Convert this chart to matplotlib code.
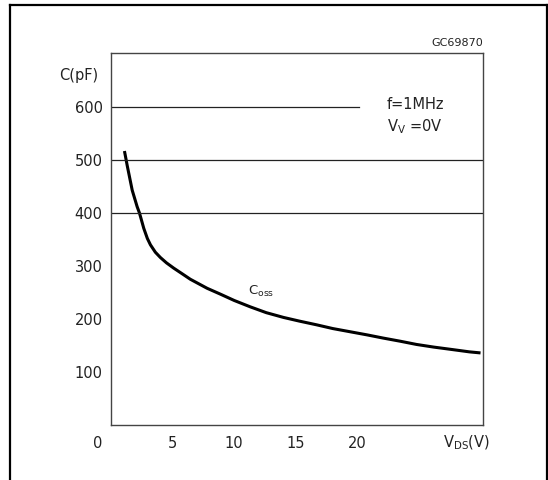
import numpy as np
import matplotlib as mpl
mpl.use("Agg")
import matplotlib.pyplot as plt
from matplotlib.lines import Line2D

# Coss curve
vds = [1.09, 1.23, 1.31, 1.72, 2.12, 2.31, 2.66, 2.95, 3.2, 3.6, 4.01,
       4.5, 5.09, 5.8, 6.44, 7.8, 8.87, 10.0, 11.3, 12.6, 14.0, 15.3,
       16.7, 18.0, 19.4, 20.8, 22.1, 23.5, 24.8, 26.2, 27.5, 29.1, 30.0]
coss = [517, 500, 490, 443, 412, 400, 371, 352, 340, 326, 316,
        306, 296, 285, 275, 258, 247, 235, 223, 212, 203, 196,
        189, 182, 176, 170, 164, 158, 152, 147, 143, 138, 136]

yticks = [100, 200, 300, 400, 500, 600]
xticks = [5, 10, 15, 20]

mpl.rcParams['font.family'] = 'DejaVu Sans'
txt = '#222222'
fs = 10.5

fig = plt.figure(figsize=(5.48, 4.80), dpi=100)
ax = fig.add_axes([0.2026, 0.1146, 0.6788, 0.775])

ax.plot(vds, coss, color='black', lw=2.2, solid_capstyle='butt',
        solid_joinstyle='round')

# horizontal reference lines
ax.plot([0, 20.1], [600, 600], color='#222222', lw=0.9)
ax.axhline(500, color='#222222', lw=0.9)
ax.axhline(400, color='#222222', lw=0.9)

ax.set_xlim(0, 30.2)
ax.set_ylim(0, 702)
ax.set_xticks(xticks)
ax.set_yticks(yticks)
ax.tick_params(axis='both', length=0, labelsize=fs, colors=txt)
ax.tick_params(axis='y', pad=6)
ax.tick_params(axis='x', pad=8)
for s in ax.spines.values():
    s.set_color('#444444')
    s.set_linewidth(1.0)

ax.text(-1.1, -34, '0', ha='center', va='center', fontsize=fs, color=txt,
        clip_on=False)
ax.text(28.9, -34, r'V$_{\mathrm{DS}}$(V)', ha='center', va='center',
        fontsize=fs, color=txt, clip_on=False)
ax.text(-2.6, 660, 'C(pF)', ha='center', va='center', fontsize=fs,
        color=txt, clip_on=False)
ax.text(30.2, 712, 'GC69870', ha='right', va='bottom', fontsize=8,
        color=txt, clip_on=False)
ax.text(22.4, 604, 'f=1MHz', ha='left', va='center', fontsize=fs, color=txt)
ax.text(22.4, 563, r'V$_{\mathrm{V}}$ =0V', ha='left', va='center',
        fontsize=fs, color=txt)
ax.text(11.1, 238, r'C$_{\mathrm{oss}}$', ha='left', va='bottom',
        fontsize=9.5, color=txt)

# outer frame (left, top, right)
fw = 1.6
fig.add_artist(Line2D([10 / 548, 10 / 548], [0, 1 - 4.5 / 480],
                      color='black', lw=fw, transform=fig.transFigure))
fig.add_artist(Line2D([10 / 548, 547 / 548], [1 - 4.5 / 480, 1 - 4.5 / 480],
                      color='black', lw=fw, transform=fig.transFigure))
fig.add_artist(Line2D([547 / 548, 547 / 548], [0, 1 - 4.5 / 480],
                      color='black', lw=fw, transform=fig.transFigure))

fig.savefig('out.png', dpi=100)
